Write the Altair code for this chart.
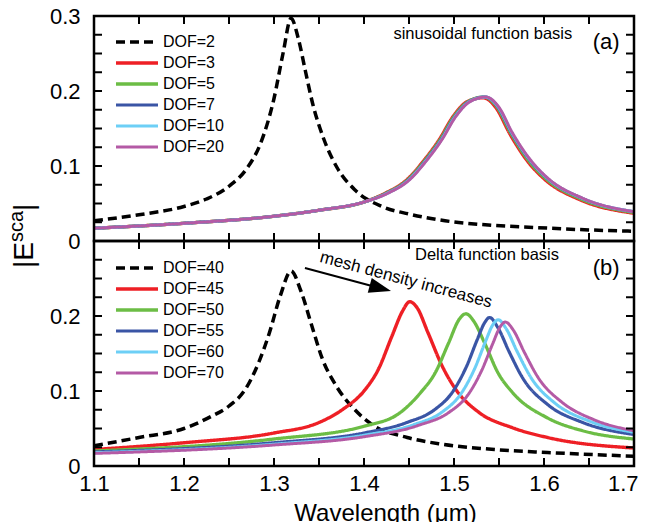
import altair as alt
import pandas as pd

FONT = "Liberation Sans"

# ---------------- data ----------------
# panel (a): sinusoidal function basis
a_names = ["DOF=2", "DOF=3", "DOF=5", "DOF=7", "DOF=10", "DOF=20"]

a_dof2_wl = [1.10, 1.15, 1.20, 1.225, 1.25, 1.27, 1.285, 1.30, 1.31, 1.319, 1.327,
             1.335, 1.343, 1.355, 1.37, 1.39, 1.42, 1.45, 1.49, 1.53, 1.59, 1.645, 1.70]
a_dof2_val = [0.027, 0.035, 0.046, 0.056, 0.073, 0.097, 0.13, 0.19, 0.25, 0.297, 0.27,
              0.226, 0.183, 0.137, 0.098, 0.068, 0.046, 0.036, 0.027, 0.022, 0.018, 0.015, 0.013]

a_dof3_wl = [1.10, 1.20, 1.30, 1.35, 1.40, 1.424, 1.447, 1.467, 1.4835, 1.499, 1.515,
             1.5325, 1.5465, 1.562, 1.582, 1.601, 1.64, 1.70]
a_dof3_val = [0.017, 0.0236, 0.033, 0.041, 0.052, 0.064, 0.081, 0.108, 0.135, 0.166, 0.186,
              0.191, 0.178, 0.143, 0.106, 0.082, 0.055, 0.037]

a_dof5_wl = [1.10, 1.20, 1.30, 1.35, 1.40, 1.425, 1.448, 1.468, 1.4845, 1.50, 1.516,
             1.5335, 1.5475, 1.563, 1.583, 1.602, 1.641, 1.70]
a_dof5_val = [0.017, 0.0236, 0.033, 0.041, 0.052, 0.064, 0.081, 0.108, 0.135, 0.166, 0.186,
              0.192, 0.179, 0.144, 0.107, 0.083, 0.056, 0.038]

a_dof7_wl = [1.10, 1.20, 1.30, 1.35, 1.40, 1.426, 1.449, 1.469, 1.4855, 1.501, 1.517,
             1.5345, 1.5485, 1.564, 1.584, 1.603, 1.642, 1.70]
a_dof7_val = [0.017, 0.0236, 0.033, 0.041, 0.052, 0.064, 0.081, 0.108, 0.135, 0.166, 0.186,
              0.192, 0.179, 0.144, 0.108, 0.084, 0.057, 0.039]

a_dof10_wl = [1.10, 1.20, 1.30, 1.35, 1.40, 1.4265, 1.4495, 1.4695, 1.486, 1.5015, 1.5175,
              1.535, 1.549, 1.5645, 1.5845, 1.6035, 1.6425, 1.70]
a_dof10_val = [0.017, 0.0236, 0.033, 0.041, 0.052, 0.064, 0.081, 0.108, 0.135, 0.166, 0.186,
               0.192, 0.179, 0.144, 0.108, 0.084, 0.057, 0.039]

a_dof20_wl = [1.10, 1.20, 1.30, 1.35, 1.40, 1.427, 1.45, 1.47, 1.4865, 1.502, 1.518,
              1.5355, 1.5495, 1.565, 1.585, 1.604, 1.643, 1.70]
a_dof20_val = [0.017, 0.0236, 0.033, 0.041, 0.052, 0.064, 0.081, 0.108, 0.135, 0.166, 0.186,
               0.192, 0.179, 0.144, 0.108, 0.084, 0.057, 0.039]

# panel (b): delta function basis
b_names = ["DOF=40", "DOF=45", "DOF=50", "DOF=55", "DOF=60", "DOF=70"]

b_dof40_wl = [1.10, 1.15, 1.20, 1.23, 1.25, 1.268, 1.283, 1.295, 1.307, 1.319, 1.33,
              1.342, 1.354, 1.369, 1.389, 1.408, 1.448, 1.487, 1.545, 1.604, 1.70]
b_dof40_val = [0.027, 0.038, 0.05, 0.066, 0.08, 0.102, 0.138, 0.178, 0.227, 0.26, 0.233,
               0.187, 0.142, 0.107, 0.076, 0.056, 0.038, 0.029, 0.022, 0.018, 0.013]

b_dof45_wl = [1.10, 1.20, 1.30, 1.35, 1.377, 1.40, 1.416, 1.431, 1.443, 1.4507, 1.459,
              1.471, 1.487, 1.502, 1.526, 1.565, 1.604, 1.70]
b_dof45_val = [0.022, 0.031, 0.044, 0.058, 0.076, 0.10, 0.129, 0.173, 0.207, 0.219, 0.211,
               0.178, 0.133, 0.102, 0.073, 0.051, 0.038, 0.024]

b_dof50_wl = [1.10, 1.30, 1.40, 1.44, 1.463, 1.479, 1.494, 1.506, 1.5133, 1.522, 1.534,
              1.549, 1.565, 1.604, 1.643, 1.70]
b_dof50_val = [0.020, 0.036, 0.053, 0.071, 0.098, 0.124, 0.164, 0.196, 0.203, 0.193, 0.164,
               0.124, 0.098, 0.064, 0.047, 0.036]

b_dof55_wl = [1.10, 1.30, 1.40, 1.4476, 1.479, 1.498, 1.514, 1.526, 1.534, 1.5395, 1.549,
              1.561, 1.577, 1.604, 1.643, 1.70]
b_dof55_val = [0.0187, 0.031, 0.044, 0.058, 0.0756, 0.098, 0.133, 0.169, 0.191, 0.198, 0.184,
               0.153, 0.116, 0.082, 0.058, 0.042]

b_dof60_wl = [1.10, 1.30, 1.40, 1.455, 1.488, 1.507, 1.523, 1.535, 1.543, 1.549, 1.558,
              1.570, 1.586, 1.612, 1.65, 1.70]
b_dof60_val = [0.0177, 0.029, 0.041, 0.055, 0.073, 0.095, 0.130, 0.166, 0.188, 0.195, 0.183,
               0.153, 0.117, 0.084, 0.060, 0.045]

b_dof70_wl = [1.10, 1.30, 1.40, 1.46, 1.495, 1.515, 1.531, 1.543, 1.551, 1.557, 1.566,
              1.578, 1.594, 1.62, 1.655, 1.70]
b_dof70_val = [0.0168, 0.028, 0.039, 0.054, 0.072, 0.094, 0.128, 0.163, 0.185, 0.192, 0.181,
               0.152, 0.117, 0.085, 0.062, 0.047]

# styles
line_colors = ["#000000", "#ee1f25", "#6cbd45", "#3a55a5", "#6dcff6", "#b45aa5"]
line_dashes = [[9, 5], [1, 0], [1, 0], [1, 0], [1, 0], [1, 0]]
a_widths = [3.5, 3, 3, 3, 3, 4.2]
b_widths = [3.5, 3, 3, 3, 3, 3]

# ticks
x_ticks = [1.10, 1.15, 1.20, 1.25, 1.30, 1.35, 1.40, 1.45, 1.50, 1.55, 1.60, 1.65, 1.70]
y_ticks = [0.0, 0.025, 0.05, 0.075, 0.1, 0.125, 0.15, 0.175, 0.2, 0.225, 0.25, 0.275, 0.3]
x_range = [1.1, 1.7]
y_range = [0.0, 0.3]

W, H = 540, 225          # one panel; the two panels are stacked in one 540 x 450 plot
TL = 8                   # inward tick length in pixels
TLX = (x_range[1] - x_range[0]) * TL / W
TLY = (y_range[1] - y_range[0]) * TL / H


def frame(pairs, names):
    dfs = []
    for (wl, val), n in zip(pairs, names):
        dfs.append(pd.DataFrame({"wl": wl, "val": val, "series": n}))
    return pd.concat(dfs, ignore_index=True)


a_df = frame([(a_dof2_wl, a_dof2_val), (a_dof3_wl, a_dof3_val), (a_dof5_wl, a_dof5_val),
              (a_dof7_wl, a_dof7_val), (a_dof10_wl, a_dof10_val), (a_dof20_wl, a_dof20_val)], a_names)
b_df = frame([(b_dof40_wl, b_dof40_val), (b_dof45_wl, b_dof45_val), (b_dof50_wl, b_dof50_val),
              (b_dof55_wl, b_dof55_val), (b_dof60_wl, b_dof60_val), (b_dof70_wl, b_dof70_val)], b_names)

# inward tick segments built from the tick lists
seg_rows = []
for i, t in enumerate(x_ticks):
    seg_rows += [("b%d" % i, 0, t, y_range[0]), ("b%d" % i, 1, t, y_range[0] + TLY),
                 ("t%d" % i, 0, t, y_range[1]), ("t%d" % i, 1, t, y_range[1] - TLY)]
for i, v in enumerate(y_ticks):
    seg_rows += [("l%d" % i, 0, x_range[0], v), ("l%d" % i, 1, x_range[0] + TLX, v),
                 ("r%d" % i, 0, x_range[1], v), ("r%d" % i, 1, x_range[1] - TLX, v)]
seg_df = pd.DataFrame(seg_rows, columns=["id", "k", "wl", "val"])
box_df = pd.DataFrame({"wl": [x_range[0], x_range[1], x_range[1], x_range[0], x_range[0]],
                       "val": [y_range[0], y_range[0], y_range[1], y_range[1], y_range[0]],
                       "k": [0, 1, 2, 3, 4]})

xscale = alt.Scale(domain=x_range, nice=False, zero=False)
yA = alt.Scale(domain=y_range, range=[H, 0], nice=False, zero=False)        # panel (a)
yB = alt.Scale(domain=y_range, range=[2 * H, H], nice=False, zero=False)    # panel (b)

LAB = dict(ticks=False, domain=False, grid=False, labelFont=FONT, labelFontSize=22,
           labelColor="black", labelFlush=False, labelOverlap=False)

is_major = "abs(datum.value*10-round(datum.value*10))<0.01"
y_lab_a = f"{is_major} ? (datum.value<0.001 ? '0' : format(datum.value,'.1f')) : ''"
y_lab_b = f"datum.value>0.29 ? '' : ({y_lab_a})"
x_lab = f"{is_major} ? format(datum.value,'.1f') : ''"

XAXIS = alt.Axis(orient="bottom", values=x_ticks, labelExpr=x_lab, labelPadding=7,
                 labelAlign={"condition": {"test": "datum.value > 1.69", "value": "right"},
                             "value": "center"},
                 labelOffset={"condition": {"test": "datum.value > 1.69", "value": 4},
                              "value": 0},
                 title="Wavelength (\u03bcm)", titleFont=FONT, titleFontSize=24,
                 titleFontWeight="normal", titleColor="black", titleX=291, titleY=54,
                 titleAlign="center", titleBaseline="alphabetic", **LAB)


def X():
    return alt.X("wl:Q", scale=xscale, axis=XAXIS)


def Y(scale, axis=None):
    return alt.Y("val:Q", scale=scale, axis=axis)


def legend(y):
    return alt.Legend(orient="none", legendX=20, legendY=y, title=None, symbolType="stroke",
                      symbolSize=1764, symbolStrokeWidth=3, labelFont=FONT, labelFontSize=16,
                      labelColor="black", clipHeight=21, rowPadding=0, labelOffset=3, padding=0)


def curves(df, names, widths, yscale, ylab, ly):
    yaxis = alt.Axis(orient="left", values=y_ticks, labelExpr=ylab, labelPadding=14,
                     title=None, **LAB)
    return alt.Chart(df).mark_line(clip=True, interpolate="monotone").encode(
        x=X(),
        y=Y(yscale, yaxis),
        color=alt.Color("series:N", scale=alt.Scale(domain=names, range=line_colors),
                        legend=legend(ly)),
        strokeDash=alt.StrokeDash("series:N", scale=alt.Scale(domain=names, range=line_dashes),
                                  legend=legend(ly)),
        strokeWidth=alt.StrokeWidth("series:N", scale=alt.Scale(domain=names, range=widths),
                                    legend=None),
    )


def ticks_and_frame(yscale):
    tick_lines = alt.Chart(seg_df).mark_line(color="#000000", strokeWidth=2, opacity=1).encode(
        x=X(), y=Y(yscale), detail="id:N", order="k:Q")
    box = alt.Chart(box_df).mark_line(color="#000000", strokeWidth=2.5, strokeCap="square",
                                      opacity=1).encode(
        x=X(), y=Y(yscale), order="k:Q")
    return [tick_lines, box]


def label(text, wl, val, size, yscale, angle=0):
    d = pd.DataFrame({"wl": [wl], "val": [val], "t": [text]})
    return alt.Chart(d).mark_text(font=FONT, fontSize=size, color="black", align="center",
                                  baseline="middle", angle=angle).encode(
        x=X(), y=Y(yscale), text="t:N")


# annotation positions (data units of panel b)
arrow_wl = [1.3344, 1.4182]
arrow_val = [0.264, 0.2371]
arrow_df = pd.DataFrame({"wl": arrow_wl, "val": arrow_val})
arrow_line = alt.Chart(arrow_df).mark_line(color="black", strokeWidth=2).encode(x=X(), y=Y(yB))
arrow_head = alt.Chart(arrow_df.iloc[[1]]).mark_point(
    shape="M-1,-0.7L1,0L-1,0.7Z", size=484, filled=True, color="black", opacity=1, angle=15).encode(
    x=X(), y=Y(yB))

one = pd.DataFrame({"k": [0]})
ytitle = [
    alt.Chart(one).mark_text(font=FONT, fontSize=28, color="black", align="left",
                             baseline="alphabetic", angle=270).encode(
        x=alt.value(-61), y=alt.value(252), text=alt.value("|E")),
    alt.Chart(one).mark_text(font=FONT, fontSize=20, color="black", align="left",
                             baseline="alphabetic", angle=270).encode(
        x=alt.value(-71), y=alt.value(226), text=alt.value("sca")),
    alt.Chart(one).mark_text(font=FONT, fontSize=28, color="black", align="left",
                             baseline="alphabetic", angle=270).encode(
        x=alt.value(-61), y=alt.value(195), text=alt.value("|")),
]

layers = (
    [curves(a_df, a_names, a_widths, yA, y_lab_a, 15.5),
     curves(b_df, b_names, b_widths, yB, y_lab_b, H + 16.5)]
    + ticks_and_frame(yA) + ticks_and_frame(yB)
    + [label("sinusoidal function basis", 1.532, 0.276, 16.5, yA),
       label("(a)", 1.669, 0.2647, 22, yA),
       label("Delta function basis", 1.5367, 0.281, 16.5, yB),
       label("(b)", 1.669, 0.264, 22, yB),
       label("mesh density increases", 1.4467, 0.248, 17, yB, angle=15),
       arrow_line, arrow_head]
    + ytitle
)

chart = alt.layer(*layers).resolve_scale(
    y="independent", color="independent", strokeDash="independent", strokeWidth="independent"
).resolve_axis(y="independent").resolve_legend(
    color="independent", strokeDash="independent"
).properties(
    width=W, height=2 * H,
    autosize=alt.AutoSizeParams(type="none"),
    padding={"left": 86, "top": 8, "right": 5, "bottom": 56},
).configure_view(stroke="#000000", strokeWidth=2)

chart.save("out.html", embed_options={"renderer": "svg", "actions": False})
